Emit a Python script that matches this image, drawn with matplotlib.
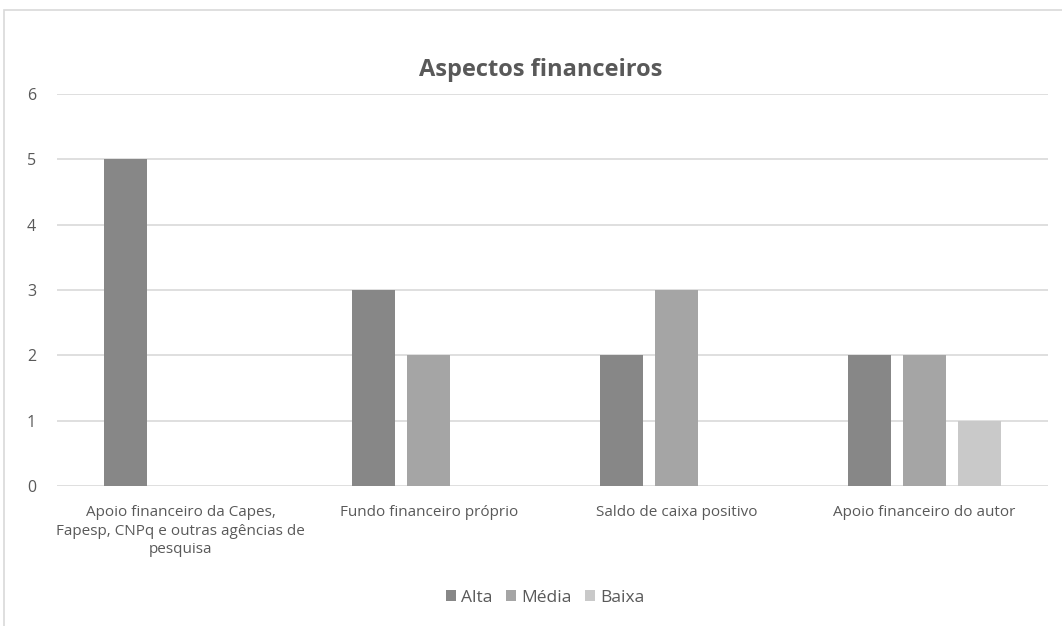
import matplotlib
matplotlib.use("Agg")
import matplotlib.pyplot as plt
from matplotlib.patches import Rectangle
import numpy as np

plt.rcParams['font.family'] = ['Open Sans', 'DejaVu Sans']

categories = ["Apoio financeiro da Capes,\nFapesp, CNPq e outras agências de\npesquisa",
              "Fundo financeiro próprio",
              "Saldo de caixa positivo",
              "Apoio financeiro do autor"]
series_names = ["Alta", "Média", "Baixa"]
alta = [5, 3, 2, 2]
media = [0, 2, 3, 2]
baixa = [0, 0, 0, 1]
colors = ["#878787", "#A5A5A5", "#C9C9C9"]

fig = plt.figure(figsize=(10.62, 6.26), dpi=100)
fig.patches.append(Rectangle((4/1062, -0.1), 1.2, 1 - 10/626 + 0.1, transform=fig.transFigure,
                             fill=False, edgecolor="#D9D9D9", linewidth=1.2, zorder=0))
ax = fig.add_axes([57/1062, 1 - 486/626, (1048 - 57)/1062, (486 - 94)/626])

x = np.arange(len(categories))
w = 0.173
off = 0.222
for i, (vals, name) in enumerate(zip([alta, media, baixa], series_names)):
    ax.bar(x + (i - 1) * off, vals, width=w, color=colors[i], label=name, zorder=3)

ax.set_xlim(-0.5, len(categories) - 0.5)
ax.set_ylim(0, 6)
ax.set_yticks(range(0, 7))
ax.yaxis.grid(True, color="#D9D9D9", linewidth=1.2, zorder=0)
ax.set_axisbelow(True)
for s in ax.spines.values():
    s.set_visible(False)
ax.tick_params(axis='both', length=0, colors="#595959", labelsize=11)
ax.tick_params(axis='y', labelsize=11.5, pad=15)
ax.set_xticks(x)
ax.set_xticklabels(categories, linespacing=1.3)
ax.tick_params(axis='x', pad=14)

fig.text(541/1062, 1 - 70/626, "Aspectos financeiros", ha='center', va='center',
         fontsize=17, fontweight='bold', color="#595959")

fig.legend(loc='center', bbox_to_anchor=(545/1062, 1 - 598/626), ncol=3, frameon=False,
           fontsize=12.5, handlelength=0.6, handleheight=0.6, handletextpad=0.25,
           columnspacing=0.8, labelcolor="#595959")

fig.savefig("out.png", dpi=100)
